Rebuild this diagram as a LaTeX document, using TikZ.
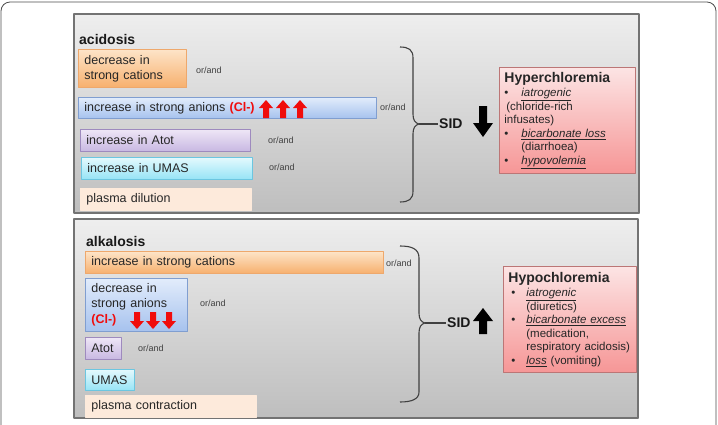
\documentclass[tikz,border=0pt]{standalone}
\usepackage{fontspec}
\setmainfont{Liberation Sans}
\usetikzlibrary{shadows}
\definecolor{panelTop}{RGB}{238,238,238}
\definecolor{panelBot}{RGB}{190,190,190}
\definecolor{orgTop}{RGB}{253,228,200}
\definecolor{orgBot}{RGB}{247,176,110}
\definecolor{orgLine}{RGB}{238,168,108}
\definecolor{bluTop}{RGB}{226,236,251}
\definecolor{bluBot}{RGB}{166,194,238}
\definecolor{bluLine}{RGB}{128,158,208}
\definecolor{purTop}{RGB}{238,230,246}
\definecolor{purBot}{RGB}{200,184,226}
\definecolor{purLine}{RGB}{158,138,190}
\definecolor{cyaTop}{RGB}{228,249,253}
\definecolor{cyaBot}{RGB}{150,228,246}
\definecolor{cyaLine}{RGB}{108,198,224}
\definecolor{peach}{RGB}{253,234,219}
\definecolor{pnkTop}{RGB}{252,228,228}
\definecolor{pnkBot}{RGB}{246,150,150}
\definecolor{pnkLine}{RGB}{188,118,118}
\definecolor{arrRed}{RGB}{240,12,12}
\begin{document}
\begin{tikzpicture}[x=1pt,y=-1pt,line join=round,
  panel/.style={top color=panelTop,bottom color=panelBot,draw=black!55,line width=1.3pt,drop shadow={shadow xshift=1pt,shadow yshift=-1pt,opacity=0.3}},
  cause/.style={anchor=north west,align=left,inner xsep=6pt,inner ysep=0pt,line width=0.8pt,text=black!85,font=\fontsize{12.5}{15}\selectfont,drop shadow={shadow xshift=1pt,shadow yshift=-1pt,opacity=0.25}},
  orgbox/.style={cause,top color=orgTop,bottom color=orgBot,draw=orgLine},
  blubox/.style={cause,top color=bluTop,bottom color=bluBot,draw=bluLine},
  purbox/.style={cause,top color=purTop,bottom color=purBot,draw=purLine},
  cyabox/.style={cause,top color=cyaTop,bottom color=cyaBot,draw=cyaLine},
  pchbox/.style={cause,fill=peach,draw=peach},
  oran/.style={anchor=west,inner sep=0pt,font=\fontsize{9}{10}\selectfont,text=black!75},
  title/.style={anchor=west,inner sep=0pt,font=\fontsize{14}{16}\selectfont\bfseries,text=black!90},
  sid/.style={anchor=west,inner sep=1pt,font=\fontsize{14}{16}\selectfont\bfseries,text=black!90},
  brace/.style={draw=black!75,line width=1.1pt},
  chlor/.style={anchor=north west,align=left,inner xsep=5pt,inner ysep=3pt,top color=pnkTop,bottom color=pnkBot,draw=pnkLine,line width=0.8pt,text=black!85,font=\fontsize{11.5}{13.5}\selectfont,drop shadow={shadow xshift=1pt,shadow yshift=-1pt,opacity=0.3}}]
\useasboundingbox (0,0) rectangle (718,424);
\draw[black!70,line width=0.8pt,rounded corners=9pt] (1,2) rectangle (716,440);
% acidosis
\path[panel] (74,14) rectangle (639,213);
\node[title] (acid) at (79,39) {acidosis};
\node[orgbox,text width=96pt,minimum height=38pt] (cationsA) at (78,49) {decrease in\\strong cations};
\node[blubox,text width=286pt,minimum height=21pt] (anionsA) at (78,97) {increase in strong anions {\color{arrRed}\bfseries(Cl-)}};
\node[purbox,text width=158pt,minimum height=22pt] (atotA) at (80,129) {increase in Atot};
\node[cyabox,text width=159pt,minimum height=22pt] (umasA) at (81,157) {increase in UMAS};
\node[pchbox,text width=159pt,minimum height=22pt] (dilution) at (80,188) {plasma dilution};
\node[oran] (oa1) at (196,70) {or/and};
\node[oran] (oa2) at (380,107) {or/and};
\node[oran] (oa3) at (268,140) {or/and};
\node[oran] (oa4) at (269,167) {or/and};
\foreach \x in {266,283,300}
  \fill[arrRed] (\x-3,118)--++(0,-10)--++(-4,0)--++(7,-8)--++(7,8)--++(-4,0)--++(0,10)--cycle;
\draw[brace] (400,47) .. controls (409,47) and (413,50) .. (413,58) -- (413,114) .. controls (413,120) and (415,123) .. (419,124) coordinate (tipA) .. controls (415,125) and (413,128) .. (413,134) -- (413,191) .. controls (413,199) and (409,202) .. (400,202);
\node[sid] (sidA) at (438,124) {SID};
\draw[brace] (tipA) -- (sidA.west);
\fill (479,106)--++(0,17)--++(-6,0)--++(10,14)--++(10,-14)--++(-6,0)--++(0,-17)--cycle;
\node[chlor,text width=126pt,minimum height=106pt] (hyper) at (499,67) {{\fontsize{14}{16}\selectfont\bfseries Hyperchloremia}\\[1pt]
\makebox[17pt][l]{\textbullet}\underline{\textit{iatrogenic}}\\
\hspace*{2pt}(chloride-rich\\
infusates)\\
\makebox[17pt][l]{\textbullet}\underline{\textit{bicarbonate loss}}\\
\hspace*{17pt}(diarrhoea)\\
\makebox[17pt][l]{\textbullet}\underline{\textit{hypovolemia}}};
% alkalosis
\path[panel] (74,219) rectangle (638,418);
\node[title] (alka) at (86,241) {alkalosis};
\node[orgbox,text width=286pt,minimum height=22pt] (cationsB) at (85,251) {increase in strong cations};
\node[blubox,text width=90pt,minimum height=53pt] (anionsB) at (85,278) {decrease in\\strong anions\\[1pt]{\color{arrRed}\bfseries(Cl-)}};
\node[purbox,text width=24pt,minimum height=22pt] (atotB) at (85,337) {Atot};
\node[cyabox,text width=37pt,minimum height=21pt] (umasB) at (85,369) {UMAS};
\node[pchbox,text width=159pt,minimum height=22pt] (contraction) at (85,395) {plasma contraction};
\node[oran] (ob1) at (386,263) {or/and};
\node[oran] (ob2) at (200,303) {or/and};
\node[oran] (ob3) at (138,348) {or/and};
\foreach \x in {137,153,169}
  \fill[arrRed] (\x-3,312)--++(0,9)--++(-4,0)--++(7,8)--++(7,-8)--++(-4,0)--++(0,-9)--cycle;
\draw[brace] (400,246) .. controls (412,246) and (419,249) .. (419,258) -- (419,313) .. controls (419,319) and (421,322) .. (425,323) coordinate (tipB) .. controls (421,324) and (419,327) .. (419,333) -- (419,392) .. controls (419,399) and (412,402) .. (400,402);
\node[sid] (sidB) at (446,323) {SID};
\draw[brace] (tipB) -- (sidB.west);
\fill (479,334)--++(0,-13)--++(-6,0)--++(10,-13)--++(10,13)--++(-6,0)--++(0,13)--cycle;
\node[chlor,text width=123pt,minimum height=106pt] (hypo) at (503,266) {{\fontsize{14}{16}\selectfont\bfseries Hypochloremia}\\[1pt]
\hspace*{3pt}\makebox[15pt][l]{\textbullet}\underline{\textit{iatrogenic}}\\
\hspace*{18pt}(diuretics)\\
\hspace*{3pt}\makebox[15pt][l]{\textbullet}\underline{\textit{bicarbonate excess}}\\
\hspace*{18pt}(medication,\\
\hspace*{18pt}respiratory acidosis)\\
\hspace*{3pt}\makebox[15pt][l]{\textbullet}\underline{\textit{loss}} (vomiting)};
\end{tikzpicture}
\end{document}
